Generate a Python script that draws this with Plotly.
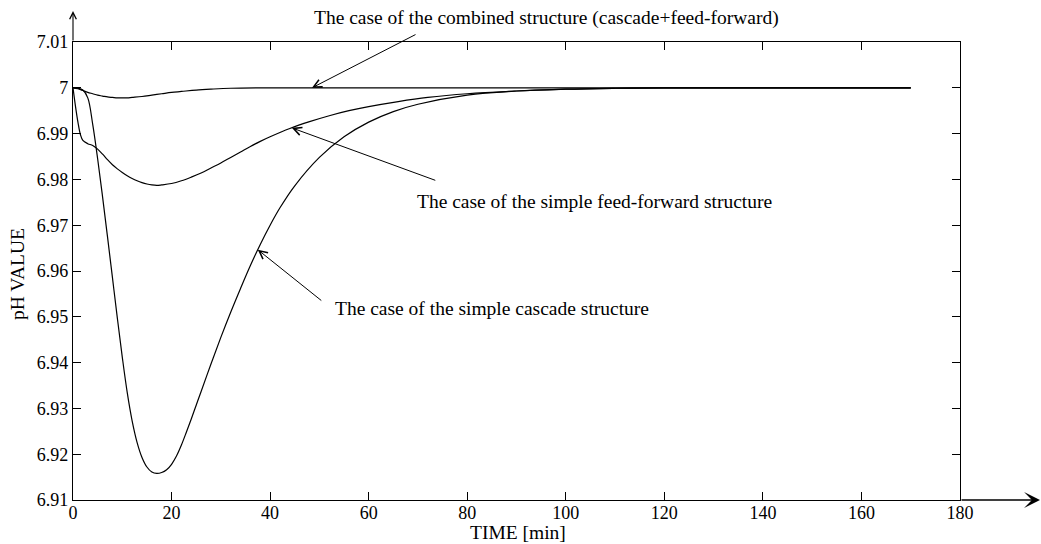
import numpy as np
import plotly.graph_objects as go

# ---------------- data ----------------
t_cascade = [0, 1, 2, 3, 4, 5, 6, 7, 8, 9, 10, 11, 12, 13, 14, 15, 16, 17, 18, 19,
             20, 21, 22, 23, 24, 25, 26, 28, 30, 32, 34, 36, 38, 40, 42, 45, 50, 55,
             60, 65, 70, 80, 90, 100, 110, 120, 140, 170]
ph_cascade = [7.0, 6.9999, 6.9995, 6.9978, 6.9920, 6.9845, 6.9762, 6.9675, 6.9586,
              6.9497, 6.9412, 6.9335, 6.9273, 6.9226, 6.9193, 6.9172, 6.9161, 6.9158,
              6.9160, 6.9166, 6.9178, 6.9196, 6.9220, 6.9248, 6.9277, 6.9307, 6.9337,
              6.9397, 6.9455, 6.9510, 6.9562, 6.9612, 6.9658, 6.9700, 6.9738, 6.9786,
              6.9848, 6.9893, 6.9925, 6.9948, 6.9964, 6.9984, 6.9993, 6.9997, 6.9999,
              7.0, 7.0, 7.0]

t_ff = [0, 0.5, 1, 1.5, 2, 3, 4, 5, 6, 7, 8, 9, 10, 11, 12, 13, 14, 15, 16, 17, 18,
        20, 22, 24, 26, 28, 30, 32, 34, 36, 38, 40, 44, 48, 52, 56, 60, 66, 72, 80,
        90, 100, 110, 120, 140, 170]
ph_ff = [7.0, 6.9960, 6.9925, 6.9898, 6.9885, 6.9878, 6.9874, 6.9866, 6.9855, 6.9843,
         6.9832, 6.9823, 6.9815, 6.9808, 6.9802, 6.9797, 6.9793, 6.9790, 6.9788,
         6.9787, 6.9788, 6.9791, 6.9797, 6.9805, 6.9814, 6.9825, 6.9836, 6.9848,
         6.9860, 6.9872, 6.9883, 6.9893, 6.9911, 6.9926, 6.9939, 6.9950, 6.9959,
         6.9970, 6.9979, 6.9987, 6.9993, 6.9997, 6.9999, 7.0, 7.0, 7.0]

t_comb = [0, 1, 2, 3, 4, 5, 6, 7, 8, 9, 10, 11, 12, 14, 16, 18, 20, 22, 25, 28, 32,
          40, 60, 100, 140, 170]
ph_comb = [7.0, 6.9998, 6.9994, 6.9990, 6.9987, 6.9984, 6.9982, 6.9980, 6.9979,
           6.9978, 6.9978, 6.9978, 6.9979, 6.9981, 6.9984, 6.9987, 6.9990, 6.9992,
           6.9995, 6.9997, 6.9999, 7.0, 7.0, 7.0, 7.0, 7.0]

x_ticks = [0, 20, 40, 60, 80, 100, 120, 140, 160, 180]
y_ticks = [6.91, 6.92, 6.93, 6.94, 6.95, 6.96, 6.97, 6.98, 6.99, 7.00, 7.01]
y_tick_labels = ["6.91", "6.92", "6.93", "6.94", "6.95", "6.96", "6.97", "6.98",
                 "6.99", "7", "7.01"]

label_comb = "The case of the combined structure (cascade+feed-forward)"
label_ff = "The case of the simple feed-forward structure"
label_cascade = "The case of the simple cascade structure"
x_title = "TIME [min]"
y_title = "pH VALUE"

# arrow tips (time on each curve)
tip_t_comb = 48.5
tip_t_ff = 44.4
tip_t_cascade = 37.5

# ---------------- figure ----------------
FONT = "Liberation Serif, Times New Roman, serif"
W, H = 1041, 544
ML, MR, MT, MB = 73, 81, 42, 44
PW, PH = W - ML - MR, H - MT - MB

def px_x(p):
    return (p - ML) / PW

def px_y(p):
    return (H - MB - p) / PH

fig = go.Figure()
line = dict(color="black", width=1.2, shape="spline", smoothing=1.0)
for tt, vv, nm in [(t_cascade, ph_cascade, "cascade"), (t_ff, ph_ff, "feed-forward"),
                   (t_comb, ph_comb, "combined")]:
    fig.add_trace(go.Scatter(x=tt, y=vv, mode="lines", line=line, name=nm,
                             showlegend=False, hoverinfo="skip"))

fig.update_layout(
    width=W, height=H,
    margin=dict(l=ML, r=MR, t=MT, b=MB, autoexpand=False),
    paper_bgcolor="white", plot_bgcolor="white",
    font=dict(family=FONT, size=18, color="black"),
    showlegend=False,
)
fig.update_xaxes(range=[0, 180], tickvals=x_ticks, ticks="inside", ticklen=8,
                 tickwidth=1, tickcolor="black", showline=True, linecolor="black",
                 linewidth=1.3, mirror="ticks", showgrid=False, zeroline=False,
                 ticklabelstandoff=-4,
                 tickfont=dict(family=FONT, size=18, color="black"))
fig.update_yaxes(range=[6.91, 7.01], tickvals=y_ticks, ticktext=y_tick_labels,
                 ticks="inside", ticklen=8, tickwidth=1, tickcolor="black",
                 showline=True, linecolor="black", linewidth=1.3, mirror="ticks",
                 showgrid=False, zeroline=False,
                 tickfont=dict(family=FONT, size=18, color="black"))

ann = []
# axis titles
ann.append(dict(text=x_title, xref="paper", yref="paper", x=px_x(518), y=px_y(532),
                showarrow=False, xanchor="center", yanchor="middle",
                font=dict(family=FONT, size=19.5, color="black")))
ann.append(dict(text=y_title, xref="paper", yref="paper", x=px_x(17), y=px_y(274),
                showarrow=False, xanchor="center", yanchor="middle", textangle=-90,
                font=dict(family=FONT, size=19.5, color="black")))
# curve labels
for txt, lx, ly in [(label_comb, 312, 18), (label_ff, 415, 201.7), (label_cascade, 333, 308)]:
    ann.append(dict(text=txt, xref="paper", yref="paper", x=px_x(lx), y=px_y(ly),
                    showarrow=False, xanchor="left", yanchor="middle",
                    font=dict(family=FONT, size=19.5, color="black")))
# pointer arrows
for tt, vv, tip_t, ax, ay in [(t_comb, ph_comb, tip_t_comb, 105, -54),
                              (t_ff, ph_ff, tip_t_ff, 145, 53),
                              (t_cascade, ph_cascade, tip_t_cascade, 65, 52)]:
    ann.append(dict(text="", x=tip_t, y=float(np.interp(tip_t, tt, vv)), xref="x", yref="y",
                    showarrow=True, ax=ax, ay=ay, axref="pixel", ayref="pixel",
                    arrowhead=5, arrowsize=1.6, arrowwidth=1, arrowcolor="black",
                    standoff=0))
# axis arrow extensions
ann.append(dict(text="", xref="paper", yref="paper", x=px_x(1040), y=0,
                ax=-(1040 - (ML + PW)), ay=0, showarrow=True, arrowhead=3,
                arrowsize=1.9, arrowwidth=1.4, arrowcolor="black"))
ann.append(dict(text="", xref="paper", yref="paper", x=0, y=px_y(11),
                ax=0, ay=MT - 11, showarrow=True, arrowhead=5,
                arrowsize=1.2, arrowwidth=1.1, arrowcolor="black"))
fig.update_layout(annotations=ann)

fig.write_html("out.html")
